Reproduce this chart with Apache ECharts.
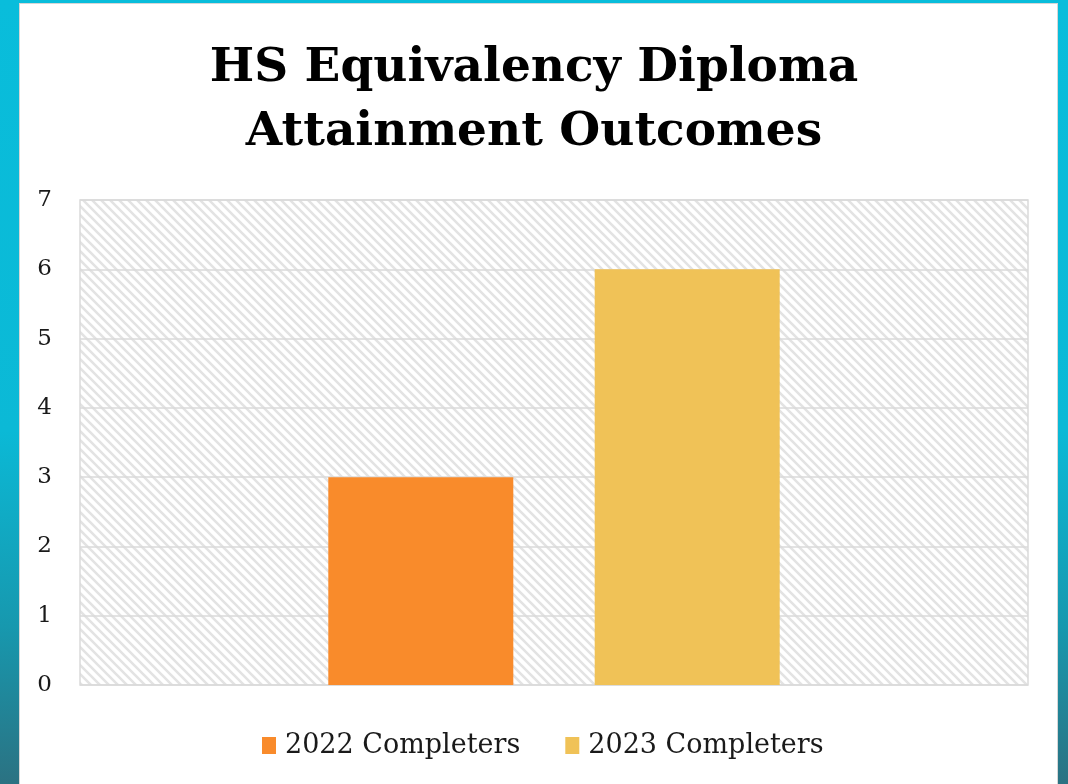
<!DOCTYPE html>
<html>
<head>
<meta charset="utf-8">
<script src="https://cdn.jsdelivr.net/npm/echarts@6/dist/echarts.min.js"></script>
<style>
  html, body { margin: 0; padding: 0; }
  body {
    width: 1068px; height: 784px; overflow: hidden; position: relative;
    background: linear-gradient(to bottom, #09bddb 0%, #0bb9d6 55%, #1798ae 80%, #2b7282 100%);
  }
  #panel {
    position: absolute; left: 19px; top: 3px; width: 1039px; height: 790px;
    background: #fff; border: 1px solid #d6d6d6; box-sizing: border-box;
  }
  #chart { position: absolute; left: 0; top: 0; width: 1068px; height: 784px; }
</style>
</head>
<body>
<div id="panel"></div>
<div id="chart"></div>
<script>
// 图表数据
const titleText = 'HS Equivalency Diploma\nAttainment Outcomes';
const categories = [''];
const seriesNames = ['2022 Completers', '2023 Completers'];
const values2022 = [3];
const values2023 = [6];
const colors = ['#f98b2b', '#f0c257'];

// 斜线填充背景
function makeHatch() {
  const c = document.createElement('canvas');
  c.width = 9; c.height = 9;
  const ctx = c.getContext('2d');
  ctx.strokeStyle = '#e3e3e3';
  ctx.lineWidth = 2.6;
  ctx.beginPath();
  ctx.moveTo(-2, -2); ctx.lineTo(11, 11);
  ctx.moveTo(-11, -2); ctx.lineTo(2, 11);
  ctx.moveTo(7, -2); ctx.lineTo(20, 11);
  ctx.stroke();
  return c;
}

const chart = echarts.init(document.getElementById('chart'), null, { renderer: 'canvas' });
const font = '"DejaVu Serif", serif';

const option = {
  animation: false,
  backgroundColor: 'transparent',
  title: {
    text: titleText,
    left: 'center',
    top: 32,
    textStyle: {
      fontFamily: font,
      fontWeight: 'bold',
      fontSize: 47,
      lineHeight: 64,
      color: '#000'
    }
  },
  legend: {
    bottom: 20,
    left: 257,
    itemWidth: 14,
    itemHeight: 17,
    itemGap: 45,
    icon: 'rect',
    textStyle: { fontFamily: font, fontSize: 27, color: '#1a1a1a', padding: [0, 0, 0, 4] },
    data: seriesNames
  },
  grid: {
    left: 80,
    right: 40,
    top: 200,
    bottom: 99,
    show: true,
    borderColor: '#dadada',
    borderWidth: 1.5,
    backgroundColor: { image: makeHatch(), repeat: 'repeat' }
  },
  xAxis: {
    type: 'category',
    data: categories,
    axisLine: { show: false },
    axisTick: { show: false },
    axisLabel: { show: false }
  },
  yAxis: {
    type: 'value',
    min: 0,
    max: 7,
    interval: 1,
    axisLine: { show: false },
    axisTick: { show: false },
    axisLabel: { fontFamily: font, fontSize: 23, color: '#1a1a1a', margin: 28 },
    splitLine: { lineStyle: { color: '#dadada', width: 1.5 } }
  },
  series: [
    {
      name: seriesNames[0],
      type: 'bar',
      data: values2022,
      barWidth: 185,
      barGap: '44%',
      itemStyle: { color: colors[0] }
    },
    {
      name: seriesNames[1],
      type: 'bar',
      data: values2023,
      barWidth: 185,
      itemStyle: { color: colors[1] }
    }
  ]
};

chart.setOption(option);
</script>
</body>
</html>
